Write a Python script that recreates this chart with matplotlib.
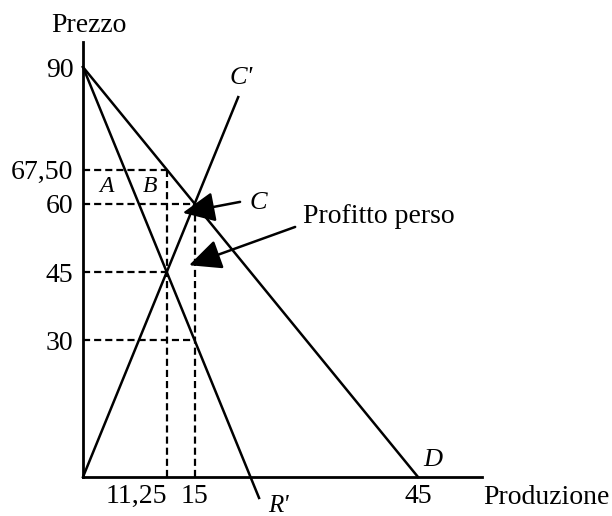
import numpy as np
import matplotlib.pyplot as plt

plt.rcParams['font.family'] = ['Liberation Serif', 'DejaVu Serif']

# curve endpoints (quantity, price)
demand_q = [0, 45]
demand_p = [90, 0]
mr_q = [0, 23.65]            # R' = 90 - 4Q, drawn a little past the axis
mr_p = [90, -4.6]
cost_q = [0, 20.85]          # C = 4Q
cost_p = [0, 83.4]

# reference levels
y_ticks = [30, 45, 60, 67.5, 90]
y_labels = ['30', '45', '60', '67,50', '90']
x_ticks = [11.25, 15, 45]
x_labels = ['11,25', '15', '45']

# dashed guide segments: (q_end, price)
h_guides = [(11.25, 67.5), (15, 60), (11.25, 45), (15, 30)]
v_guides = [(11.25, 67.5), (15, 60)]

fig = plt.figure(figsize=(6.12, 5.16), dpi=100)
ax = fig.add_axes([0.1356, 0.0756, 0.652, 0.843])
ax.set_xlim(0, 53.6)
ax.set_ylim(0, 95.5)

for s in ['top', 'right']:
    ax.spines[s].set_visible(False)
for s in ['left', 'bottom']:
    ax.spines[s].set_linewidth(2.0)

ax.set_yticks(y_ticks)
ax.set_yticklabels(y_labels)
ax.set_xticks(x_ticks)
ax.set_xticklabels(x_labels)
ax.tick_params(axis='both', length=0, labelsize=20)
ax.tick_params(axis='y', pad=7)
ax.tick_params(axis='x', pad=5)
ax.get_xticklabels()[0].set_ha('right')

lw = 1.8
ax.plot(demand_q, demand_p, color='black', lw=lw, clip_on=False)
ax.plot(mr_q, mr_p, color='black', lw=lw, clip_on=False)
ax.plot(cost_q, cost_p, color='black', lw=lw, clip_on=False)

for q, p in h_guides:
    ax.plot([0, q], [p, p], color='black', lw=1.6, ls=(0, (3.2, 1.8)))
for q, p in v_guides:
    ax.plot([q, q], [0, p], color='black', lw=1.6, ls=(0, (3.2, 1.8)))

# curve and area labels
ax.text(21.2, 87.5, "C'", fontsize=19, style='italic', ha='center', va='center')
ax.text(23.5, 60.1, 'C', fontsize=19, style='italic', ha='center', va='center')
ax.text(47.0, 3.7, 'D', fontsize=19, style='italic', ha='center', va='center')
ax.text(26.2, -4.0, "R'", fontsize=18, style='italic', ha='center', va='top', clip_on=False)
ax.text(3.2, 63.75, 'A', fontsize=17, style='italic', ha='center', va='center')
ax.text(9.0, 63.75, 'B', fontsize=17, style='italic', ha='center', va='center')

# arrows
arrow = dict(arrowstyle='-|>,head_length=0.9,head_width=0.42', mutation_scale=22,
             color='black', lw=1.8, shrinkA=0, shrinkB=0)
ax.annotate('', xy=(13.4, 58.0), xytext=(21.1, 60.4), arrowprops=arrow)
ax.annotate('', xy=(14.25, 46.5), xytext=(28.5, 54.9), arrowprops=arrow)
ax.text(29.6, 57.1, 'Profitto perso', fontsize=20, ha='left', va='center')

# axis titles
ax.text(0.8, 99.2, 'Prezzo', fontsize=20, ha='center', va='center', clip_on=False)
ax.text(53.8, -4.4, 'Produzione', fontsize=20, ha='left', va='center', clip_on=False)

fig.savefig('out.png', dpi=100)
